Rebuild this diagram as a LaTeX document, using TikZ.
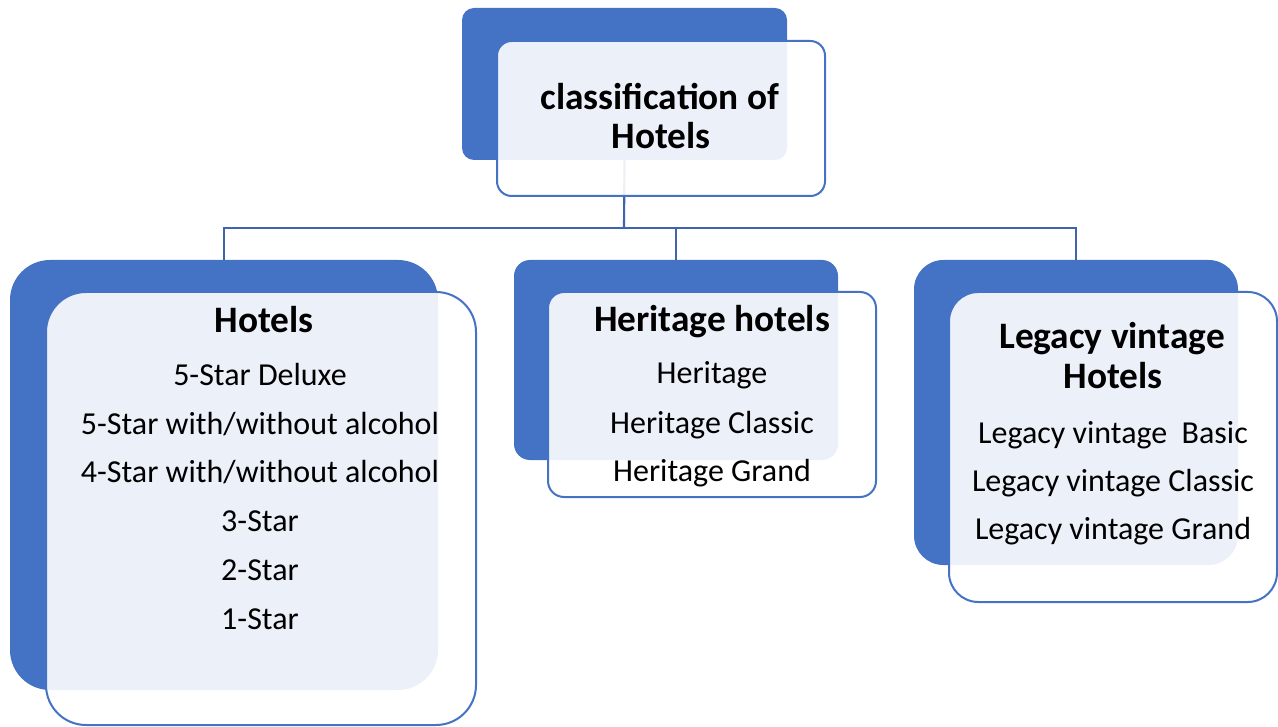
\documentclass[tikz,border=0pt]{standalone}
\usepackage{fontspec}
\setmainfont{Carlito}
\usetikzlibrary{fit}
\definecolor{boxblue}{HTML}{4472C4}
\definecolor{linkblue}{HTML}{3F63AC}
\tikzset{
    backbox/.style={fill=boxblue, draw=none, inner sep=0pt, rounded corners=#1},
    frontbox/.style={draw=boxblue, line width=1.5pt, fill=white, fill opacity=0.9, inner sep=0pt, rounded corners=#1},
    link/.style={draw=linkblue, line width=1.6pt},
    headtext/.style={font=\fontsize{28}{32}\selectfont\bfseries, anchor=base, inner sep=0pt},
    itemtext/.style={font=\fontsize{24}{28}\selectfont, anchor=base, inner sep=0pt}
}
\begin{document}
\begin{tikzpicture}[x=0.75pt, y=-0.75pt]
    \useasboundingbox (0,0) rectangle (1278,727);

    % back boxes
    \node[backbox=9pt, fit={(462,8) (787,160)}] (topback) {};
    \node[backbox=30pt, fit={(10,260) (438,690)}] (hotelback) {};
    \node[backbox=12pt, fit={(514,260) (838,460)}] (heriback) {};
    \node[backbox=22pt, fit={(914,260) (1238,565)}] (legback) {};

    % connectors
    \coordinate (bus) at (624,228);
    \draw[link] (topback.south) -- (bus);
    \draw[link] (hotelback.north) |- (bus) -| (legback.north);
    \draw[link] (heriback.north) -- (heriback.north |- bus);

    % front boxes
    \node[frontbox=11pt, fit={(497,41) (825,196)}] (topfront) {};
    \node[frontbox=30pt, fit={(46,292) (476,725)}] (hotelfront) {};
    \node[frontbox=12pt, fit={(548,292) (876,497)}] (herifront) {};
    \node[frontbox=22pt, fit={(949,292) (1277,602)}] (legfront) {};

    % texts
    \node[headtext] (toptitle1) at (660,110) {classification of};
    \node[headtext] (toptitle2) at (661,149) {Hotels};

    \node[headtext] (hoteltitle) at (264,332) {Hotels};
    \foreach \yb/\txt [count=\i] in {385/{5-Star Deluxe}, 434/{5-Star with/without alcohol},
        482/{4-Star with/without alcohol}, 531/{3-Star}, 580/{2-Star}, 629/{1-Star}} {
        \node[itemtext] (hotel\i) at (260,\yb) {\txt};
    }

    \node[headtext] (herititle) at (712,331) {Heritage hotels};
    \foreach \yb/\txt [count=\i] in {383/{Heritage}, 433/{Heritage Classic}, 481/{Heritage Grand}} {
        \node[itemtext] (heri\i) at (712,\yb) {\txt};
    }

    \node[headtext] (legtitle1) at (1112,349) {Legacy vintage};
    \node[headtext] (legtitle2) at (1113,388) {Hotels};
    \foreach \yb/\txt [count=\i] in {443/{Legacy vintage~ Basic}, 491/{Legacy vintage Classic}, 539/{Legacy vintage Grand}} {
        \node[itemtext] (leg\i) at (1113,\yb) {\txt};
    }
\end{tikzpicture}
\end{document}
